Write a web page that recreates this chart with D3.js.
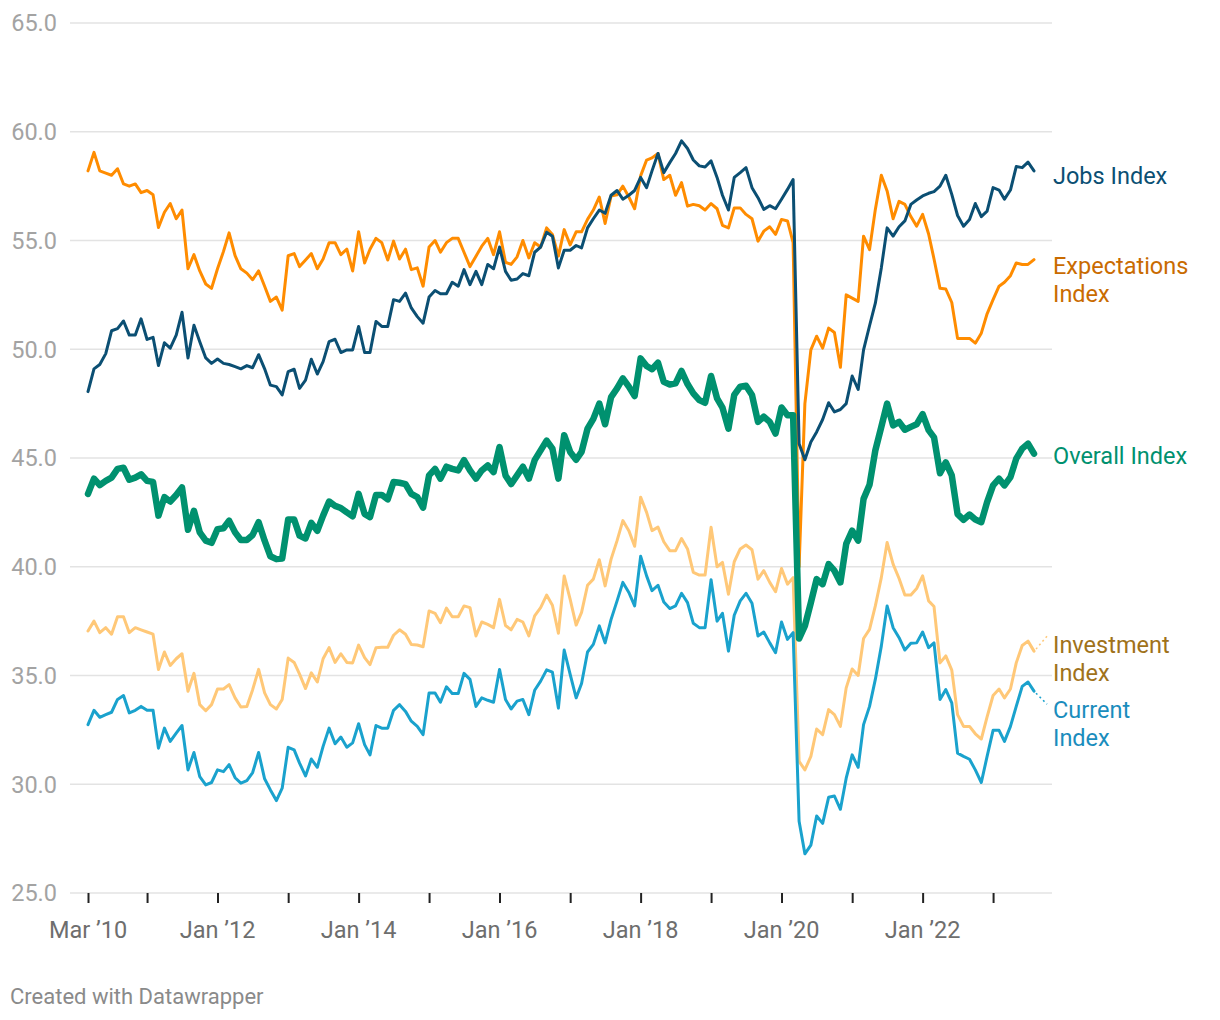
<!DOCTYPE html>
<html><head><meta charset="utf-8">
<script src="https://cdn.jsdelivr.net/npm/d3@7"></script>
<style>
body{margin:0;background:#fff;}
svg{display:block;font-family:Roboto,"Noto Sans",sans-serif;}
</style></head><body>
<svg id="chart" width="1220" height="1020"></svg>
<script>
// ---- DATA (monthly, Mar 2010 – Aug 2023) ----
const startMonth = [2010, 2]; // year, month index (March)
const jobs = [48.05,49.1,49.3,49.8,50.85,50.95,51.3,50.65,50.65,51.4,50.45,50.55,49.25,50.3,50.05,50.65,51.7,49.6,51.1,50.35,49.6,49.35,49.55,49.35,49.3,49.2,49.1,49.25,49.15,49.75,
49.1,48.35,48.28,47.9,48.97,49.08,48.2,48.58,49.54,48.86,49.43,50.35,50.46,49.85,49.97,49.97,51.05,49.85,49.85,51.28,51.05,51.05,52.28,52.2,52.58,51.9,51.5,51.2,52.4,52.7,
52.55,52.55,53.08,52.9,53.66,52.97,53.58,52.97,53.9,53.7,54.7,53.58,53.17,53.23,53.48,53.38,54.46,54.7,55.38,55.2,53.74,54.55,54.55,54.77,54.66,55.58,56.0,56.4,56.25,57.08,
57.3,56.9,57.08,57.3,57.9,57.43,58.2,59.0,58.12,58.58,59.0,59.58,59.23,58.7,58.43,58.38,58.66,57.9,57.08,56.4,57.9,58.12,58.35,57.43,56.97,56.43,56.6,56.46,56.9,57.35,
57.8,45.66,44.92,45.74,46.2,46.77,47.54,47.12,47.23,47.5,48.77,48.15,49.97,51.08,52.12,53.74,55.58,55.2,55.63,55.9,56.66,56.86,57.05,57.17,57.25,57.5,58.0,57.12,56.15,55.66,
55.97,56.7,56.1,56.35,57.43,57.32,56.9,57.32,58.4,58.35,58.6,58.2];
const expectations = [58.2,59.05,58.2,58.1,58.0,58.3,57.6,57.5,57.6,57.2,57.3,57.1,55.6,56.3,56.7,56.0,56.4,53.7,54.35,53.6,53.0,52.8,53.7,54.5,55.35,54.3,53.7,53.5,53.2,53.6,
52.9,52.2,52.4,51.8,54.3,54.4,53.8,54.1,54.4,53.7,54.15,54.9,54.9,54.35,54.6,53.6,55.4,53.97,54.6,55.1,54.9,54.1,54.97,54.15,54.6,53.66,53.74,52.9,54.7,55.0,
54.46,54.9,55.1,55.1,54.46,53.8,54.28,54.74,55.1,54.35,55.4,54.0,53.9,54.25,55.0,54.2,54.9,54.7,55.58,55.28,54.28,55.5,54.8,55.4,55.4,55.97,56.4,57.0,55.78,57.05,
57.1,57.5,57.0,56.46,57.97,58.7,58.8,59.0,57.8,58.0,57.08,57.66,56.58,56.66,56.6,56.4,56.7,56.46,55.7,55.58,56.5,56.5,56.2,56.0,54.97,55.43,55.63,55.28,55.97,55.9,
54.9,40.0,47.5,49.97,50.6,50.05,50.97,50.77,49.17,52.5,52.35,52.2,55.2,54.58,56.43,58.0,57.28,56.0,56.8,56.66,56.1,55.66,56.2,55.3,54.15,52.8,52.77,52.15,50.5,50.5,
50.5,50.28,50.74,51.63,52.28,52.9,53.08,53.38,53.97,53.9,53.9,54.12];
const overall = [43.35,44.05,43.75,43.95,44.1,44.5,44.55,44.0,44.1,44.25,43.95,43.9,42.35,43.2,43.0,43.3,43.65,41.7,42.57,41.58,41.2,41.1,41.73,41.77,42.12,41.58,41.23,41.23,41.46,42.05,
41.2,40.48,40.35,40.38,42.17,42.17,41.43,41.3,42.02,41.65,42.35,43.0,42.8,42.7,42.5,42.32,43.35,42.43,42.28,43.3,43.3,43.1,43.9,43.86,43.8,43.35,43.2,42.72,44.2,44.5,
44.05,44.6,44.5,44.43,44.9,44.43,44.05,44.43,44.66,44.35,45.5,44.2,43.8,44.2,44.6,44.05,44.9,45.35,45.8,45.43,44.05,46.05,45.28,44.92,45.28,46.35,46.8,47.5,46.55,47.8,
48.2,48.66,48.28,47.85,49.58,49.23,49.08,49.38,48.5,48.38,48.43,49.0,48.4,47.97,47.66,47.54,48.77,47.74,47.32,46.35,47.9,48.28,48.32,47.9,46.66,46.9,46.66,46.12,47.32,46.97,
46.97,36.7,37.28,38.35,39.43,39.2,40.12,39.82,39.28,41.05,41.66,41.2,43.12,43.77,45.35,46.43,47.5,46.5,46.66,46.3,46.43,46.55,47.02,46.28,45.95,44.3,44.8,44.2,42.42,42.16,
42.4,42.17,42.05,42.97,43.74,44.05,43.74,44.12,44.97,45.43,45.66,45.2];
const investment = [37.05,37.5,36.97,37.2,36.9,37.7,37.7,36.97,37.2,37.1,37.0,36.9,35.28,36.08,35.46,35.77,36.0,34.28,35.1,33.66,33.38,33.66,34.38,34.38,34.58,33.97,33.55,33.58,34.35,35.28,
34.2,33.66,33.46,33.9,35.8,35.6,35.06,34.4,35.12,34.7,35.77,36.28,35.6,36.0,35.6,35.58,36.4,35.82,35.5,36.28,36.3,36.3,36.85,37.1,36.9,36.43,36.4,36.32,37.97,37.86,
37.43,38.1,37.7,37.7,38.2,38.12,36.82,37.46,37.35,37.2,38.5,37.3,37.1,37.58,37.46,36.82,37.74,38.12,38.7,38.23,36.94,39.58,38.5,37.32,37.9,39.15,39.43,40.32,39.12,40.35,
41.2,42.12,41.66,40.94,43.2,42.5,41.66,41.82,41.15,40.74,40.74,41.3,40.82,39.74,39.62,39.62,41.82,40.0,40.2,38.74,40.23,40.82,41.0,40.78,39.43,39.82,39.28,38.85,39.92,39.2,
39.5,31.05,30.66,31.28,32.54,32.28,33.43,33.2,32.66,34.43,35.3,35.0,36.7,37.12,38.2,39.5,41.12,40.12,39.46,38.7,38.7,39.0,39.58,38.43,38.17,35.58,35.9,35.25,33.2,32.66,
32.66,32.32,32.08,33.1,34.08,34.38,33.97,34.38,35.58,36.38,36.58,36.12];
const current = [32.74,33.4,33.08,33.2,33.31,33.9,34.08,33.28,33.4,33.58,33.4,33.4,31.66,32.58,31.97,32.35,32.7,30.66,31.46,30.35,29.97,30.08,30.66,30.58,30.9,30.3,30.05,30.17,30.54,31.46,
30.25,29.74,29.25,29.82,31.7,31.58,30.97,30.38,31.16,30.78,31.74,32.58,31.86,32.17,31.7,31.9,32.78,31.82,31.35,32.7,32.58,32.58,33.4,33.66,33.35,32.9,32.66,32.28,34.2,34.2,
33.77,34.48,34.17,34.17,35.1,34.82,33.58,33.97,33.86,33.77,35.28,33.9,33.46,33.82,33.9,33.2,34.32,34.74,35.26,35.15,33.5,36.17,35.05,33.97,34.63,36.08,36.43,37.28,36.5,37.58,
38.43,39.28,38.82,38.2,40.48,39.58,38.9,39.15,38.38,38.08,38.2,38.78,38.35,37.4,37.2,37.2,39.4,37.5,37.86,36.12,37.77,38.43,38.78,38.32,36.82,37.0,36.5,36.05,37.46,36.66,
36.97,28.3,26.8,27.2,28.54,28.2,29.4,29.46,28.85,30.28,31.35,30.78,32.74,33.58,34.82,36.35,38.2,37.2,36.74,36.17,36.48,36.5,37.0,36.28,36.5,33.9,34.35,33.74,31.43,31.28,
31.15,30.66,30.08,31.28,32.48,32.48,31.97,32.66,33.58,34.5,34.7,34.28];

const yTicks = [25, 30, 35, 40, 45, 50, 55, 60, 65];
const yTickLabels = ["25.0","30.0","35.0","40.0","45.0","50.0","55.0","60.0","65.0"];
const xTickMonths = [[2010,2],[2011,0],[2012,0],[2013,0],[2014,0],[2015,0],[2016,0],[2017,0],[2018,0],[2019,0],[2020,0],[2021,0],[2022,0],[2023,0]];
const xLabelMonths = [[2010,2],[2012,0],[2014,0],[2016,0],[2018,0],[2020,0],[2022,0]];
const xLabels = ["Mar ’10","Jan ’12","Jan ’14","Jan ’16","Jan ’18","Jan ’20","Jan ’22"];
const footer = "Created with Datawrapper";

// series definitions (drawing order: bottom to top)
const series = [
  {key:"investment", values: investment, label:["Investment","Index"], color:"#ffc878", text:"#a0721a", width:3},
  {key:"current", values: current, label:["Current","Index"], color:"#1aa2cd", text:"#1a8dbd", width:3},
  {key:"expectations", values: expectations, label:["Expectations","Index"], color:"#ff8c00", text:"#c96b00", width:3},
  {key:"jobs", values: jobs, label:["Jobs Index"], color:"#0b4f73", text:"#0b4f73", width:3},
  {key:"overall", values: overall, label:["Overall Index"], color:"#00916f", text:"#00916f", width:6.5}
];

// ---- LAYOUT ----
const svg = d3.select("#chart");
const dates = jobs.map((_, i) => new Date(startMonth[0], startMonth[1] + i, 1));
const x = d3.scaleTime().domain([dates[0], dates[dates.length - 1]]).range([88, 1034]);
const y = d3.scaleLinear().domain([25, 65]).range([893, 23]);
const gridLeft = 70, gridRight = 1052;

// gridlines + y labels
const gy = svg.append("g");
gy.selectAll("line").data(yTicks).join("line")
  .attr("x1", gridLeft).attr("x2", gridRight)
  .attr("y1", d => y(d)).attr("y2", d => y(d))
  .attr("stroke", "#e3e3e3").attr("stroke-width", 1.5);
gy.selectAll("text").data(yTicks).join("text")
  .attr("x", 57).attr("y", d => y(d))
  .attr("dy", "0.36em").attr("text-anchor", "end")
  .attr("fill", "#a3a3a3").attr("font-size", 23.5)
  .text((d, i) => yTickLabels[i]);

// x ticks
const xTickDates = xTickMonths.map(m => new Date(m[0], m[1], 1));
const xLabelDates = xLabelMonths.map(m => new Date(m[0], m[1], 1));
const xAxis = d3.axisBottom(x).tickValues(xTickDates).tickSize(10).tickFormat(() => "");
const gx = svg.append("g").attr("transform", `translate(0,${y(25)})`).call(xAxis);
gx.select(".domain").remove();
gx.selectAll(".tick line").attr("stroke", "#222").attr("stroke-width", 2);
svg.append("g").selectAll("text").data(xLabelDates).join("text")
  .attr("x", d => x(d)).attr("y", 938)
  .attr("text-anchor", "middle").attr("fill", "#6e6e6e").attr("font-size", 23.5)
  .text((d, i) => xLabels[i]);

// lines
const line = d3.line().x((d, i) => x(dates[i])).y(d => y(d));
svg.append("g").selectAll("path").data(series).join("path")
  .attr("d", s => line(s.values))
  .attr("fill", "none").attr("stroke", s => s.color).attr("stroke-width", s => s.width)
  .attr("stroke-linejoin", "round").attr("stroke-linecap", "round");

// labels (placement offsets to avoid overlap)
const labelShift = {jobs: 5, expectations: 20, overall: 2, investment: 7, current: 32};
const lineH = 28;
const lx = 1053;
const gl = svg.append("g");
series.forEach(s => {
  const last = s.values[s.values.length - 1];
  const ly = y(last);
  const n = s.label.length;
  const cy = ly + labelShift[s.key];
  const top = cy - (n - 1) * lineH / 2;
  const t = gl.append("text").attr("fill", s.text).attr("font-size", 23.5);
  s.label.forEach((l, i) => {
    t.append("tspan").attr("x", lx).attr("y", top + i * lineH).attr("dy", "0.36em").text(l);
  });
  if (s.key === "investment" || s.key === "current") {
    const endX = x(dates[dates.length - 1]);
    const up = s.key === "investment";
    gl.append("line").attr("x1", endX + 2).attr("y1", ly + (up ? -2 : 2))
      .attr("x2", lx - 6).attr("y2", up ? top - 8 : top - 5)
      .attr("stroke", s.color).attr("stroke-width", 1.5).attr("stroke-dasharray", "2,3");
  }
});

// footer
svg.append("text").attr("x", 10).attr("y", 1004).attr("fill", "#8a8a8a")
  .attr("font-size", 22).text(footer);
</script>
</body></html>
